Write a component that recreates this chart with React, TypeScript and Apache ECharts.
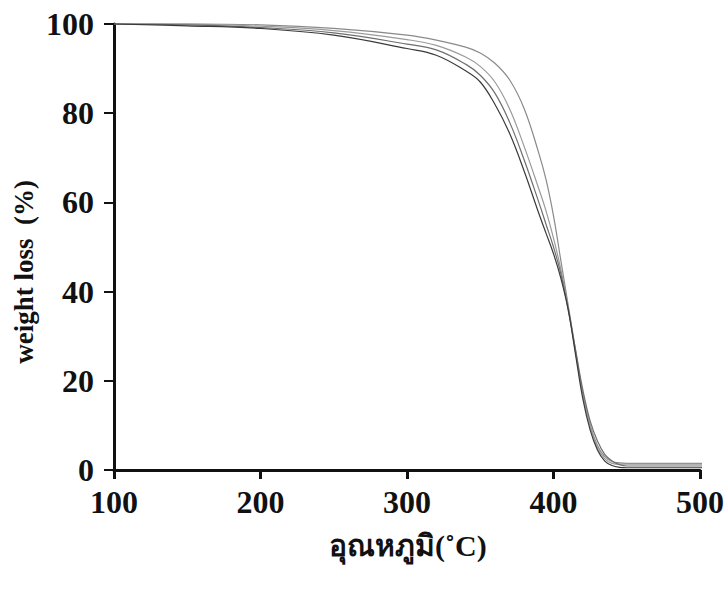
import React, { useEffect, useRef } from "react";
import * as echarts from "echarts";

const temps = [100, 150, 200, 250, 300, 320, 340, 350, 360, 370, 380, 390, 395, 400, 405, 410, 415, 420, 425, 430, 435, 440, 445, 450, 460, 480, 503];

const curveA = [100, 100, 99.8, 99, 97.5, 96.4, 94.8, 93.5, 91.2, 87.5, 81, 71, 65, 57, 47, 37, 27, 17, 10, 5.5, 3, 1.9, 1.6, 1.5, 1.5, 1.5, 1.5];
const curveB = [100, 100, 99.5, 98.5, 96.5, 95.2, 92.6, 90.5, 87, 81, 72.5, 63, 58, 52, 45, 36.5, 26.5, 17, 10, 5, 2.5, 1.5, 1.3, 1.3, 1.3, 1.3, 1.3];
const curveC = [100, 99.8, 99.2, 98, 95.5, 94.2, 91, 88.5, 84.5, 78, 69.5, 60, 55, 50, 44, 36, 27, 18, 11, 6.5, 3.5, 2, 1.2, 0.9, 0.9, 0.9, 0.9];
const curveD = [100, 99.6, 99, 97.5, 94.5, 93, 89.5, 87, 82, 75.5, 67, 57.5, 53, 48.5, 43, 36, 26, 16, 9, 4.5, 2, 1, 0.6, 0.5, 0.5, 0.5, 0.5];

const xTicks = ["100", "200", "300", "400", "500"];
const yTicks = ["0", "20", "40", "60", "80", "100"];

const seriesList = [
  { name: "A", values: curveA, color: "#8a8a8a" },
  { name: "B", values: curveB, color: "#9a9a9a" },
  { name: "C", values: curveC, color: "#6e6e6e" },
  { name: "D", values: curveD, color: "#3a3a3a" },
];

export default function App() {
  const ref = useRef<HTMLDivElement>(null);
  useEffect(() => {
    if (!ref.current) return;
    const chart = echarts.init(ref.current, null, { renderer: "svg" });
    const font = "'Liberation Serif', 'Times New Roman', serif";
    chart.setOption({
      animation: false,
      backgroundColor: "#ffffff",
      grid: { left: 114, right: 24, top: 24, bottom: 120, containLabel: false },
      xAxis: {
        type: "value",
        min: 100,
        max: 500,
        interval: 100,
        axisLine: { show: true, onZero: false, lineStyle: { color: "#111", width: 3 } },
        axisTick: { show: true, inside: false, length: 9, lineStyle: { color: "#111", width: 3 } },
        splitLine: { show: false },
        axisLabel: {
          margin: 16,
          color: "#111",
          fontFamily: font,
          fontWeight: "bold",
          fontSize: 32,
          formatter: (v: number) => (xTicks.includes(String(v)) ? String(v) : ""),
        },
      },
      yAxis: {
        type: "value",
        min: 0,
        max: 100,
        interval: 20,
        axisLine: { show: true, onZero: false, lineStyle: { color: "#111", width: 3 } },
        axisTick: { show: true, inside: false, length: 10, lineStyle: { color: "#111", width: 2 } },
        splitLine: { show: false },
        axisLabel: {
          margin: 20,
          color: "#111",
          fontFamily: font,
          fontWeight: "bold",
          fontSize: 32,
          formatter: (v: number) => (yTicks.includes(String(v)) ? String(v) : ""),
        },
      },
      series: seriesList.map((s) => ({
        name: s.name,
        type: "line",
        showSymbol: false,
        clip: false,
        smooth: 0.4,
        data: temps.map((t, i) => [t, s.values[i]]),
        lineStyle: { color: s.color, width: 1.2 },
      })),
      graphic: [
        {
          type: "text",
          left: 10,
          top: 180,
          rotation: Math.PI / 2,
          style: {
            text: "weight loss  (%)",
            fontFamily: font,
            fontWeight: "bold",
            fontSize: 27,
            fill: "#111",
          },
        },
        {
          type: "text",
          left: 329,
          top: 530,
          style: {
            text: "อุณหภูมิ(˚C)",
            fontFamily: font,
            fontWeight: "bold",
            fontSize: 30,
            fill: "#111",
          },
        },
      ],
    });
    return () => chart.dispose();
  }, []);
  return (
    <div
      ref={ref}
      style={{ position: "absolute", left: 0, top: 0, width: 727, height: 590 }}
    />
  );
}
